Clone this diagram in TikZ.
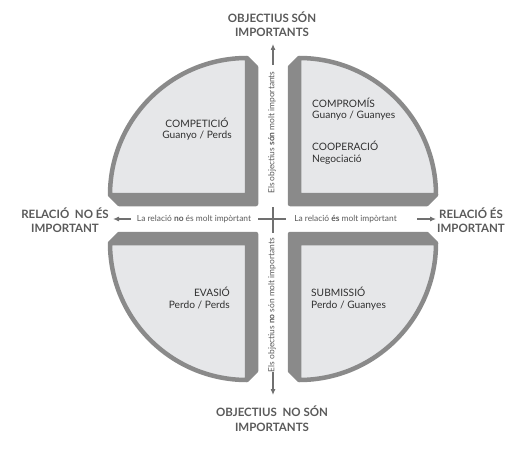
\documentclass[tikz,border=0pt]{standalone}
\usepackage{fontspec}
\setmainfont{Lato}
\usetikzlibrary{arrows.meta}
\definecolor{facegray}{HTML}{E6E7E9}
\definecolor{rimgray}{HTML}{8A8A8A}
\definecolor{labgray}{HTML}{5A5A5A}
\definecolor{txtdark}{HTML}{303030}
\definecolor{axisgray}{HTML}{707070}
\begin{document}
\begin{tikzpicture}[x=1pt,y=-1pt,
  rim/.style={fill=rimgray,draw=rimgray,line width=4.5pt,line join=round},
  face/.style={fill=facegray,draw=rimgray,line width=4.5pt,line join=round},
  biglabel/.style={font=\bfseries\fontsize{11.5}{14.5}\selectfont,text=labgray,align=center,inner sep=0pt},
  quadtext/.style={font=\fontsize{10.2}{11.5}\selectfont,text=txtdark,inner sep=0pt},
  axistext/.style={font=\fontsize{8.4}{9}\selectfont,text=labgray,inner sep=0pt},
  axisline/.style={draw=axisgray,line width=1.1pt},
  axisarrow/.style={axisline,-{Latex[length=6pt,width=5pt]}}
]
\useasboundingbox (0,0) rectangle (516,449);
\def\R{137}
% quadrants
\foreach \cx/\cy/\a/\b/\sx/\sy in {247/195/180/270/1/1, 299/195/270/360/-1/1, 247/243/90/180/1/-1, 299/243/0/90/-1/-1}{
  \foreach \d in {1,...,9}{
    \path[rim,shift={(\d*\sx,\d*\sy)}] (\cx,\cy) -- ++(\a:\R) arc[start angle=\a,end angle=\b,radius=\R] -- cycle;
  }
  \path[face] (\cx,\cy) -- ++(\a:\R) arc[start angle=\a,end angle=\b,radius=\R] -- cycle;
}
% quadrant texts
\node[quadtext,align=center] (comp) at (197,129) {COMPETICIÓ\\Guanyo / Perds};
\node[quadtext,align=left,anchor=west] (compr) at (312,109) {COMPROMÍS\\Guanyo / Guanyes};
\node[quadtext,align=left,anchor=west] (coop) at (312,152.5) {COOPERACIÓ\\Negociació};
\node[quadtext,align=right,anchor=east] (evas) at (230,298) {EVASIÓ\\Perdo / Perds};
\node[quadtext,align=left,anchor=west] (subm) at (311,298.5) {SUBMISSIÓ\\Perdo / Guanyes};
% big labels
\node[biglabel] (top) at (272,24) {OBJECTIUS SÓN\\IMPORTANTS};
\node[biglabel] (bot) at (272,418.5) {OBJECTIUS\ \ NO SÓN\\IMPORTANTS};
\node[biglabel] (left) at (65,220) {RELACIÓ\ \ NO ÉS\\IMPORTANT};
\node[biglabel] (right) at (471,220) {RELACIÓ ÉS\\IMPORTANT};
% axis texts
\node[axistext] (ltext) at (194,219) {La relació \textbf{no} és molt impòrtant};
\node[axistext] (rtext) at (345.5,219) {La relació \textbf{és} molt impòrtant};
\node[axistext,rotate=90,anchor=west] (vtop) at (272,194) {Els objectius \textbf{són} molt importants};
\node[axistext,rotate=90,anchor=east] (vbot) at (272,238) {Els objectius \textbf{no} són molt importants};
% cross
\coordinate (cl) at (258,219); \coordinate (cr) at (286,219);
\coordinate (ct) at (273,207); \coordinate (cb) at (273,233);
\draw[axisline] (cl) -- (cr);
\draw[axisline] (ct) -- (cb);
% arrows
\coordinate (uptail) at (273,65); \coordinate (uptip) at (273,44);
\coordinate (dntail) at (273,372); \coordinate (dntip) at (273,395);
\coordinate (lftail) at (131,219); \coordinate (lftip) at (113,219);
\coordinate (rttail) at (417,219); \coordinate (rttip) at (436,219);
\draw[axisarrow] (uptail) -- (uptip);
\draw[axisarrow] (dntail) -- (dntip);
\draw[axisarrow] (lftail) -- (lftip);
\draw[axisarrow] (rttail) -- (rttip);
\end{tikzpicture}
\end{document}
